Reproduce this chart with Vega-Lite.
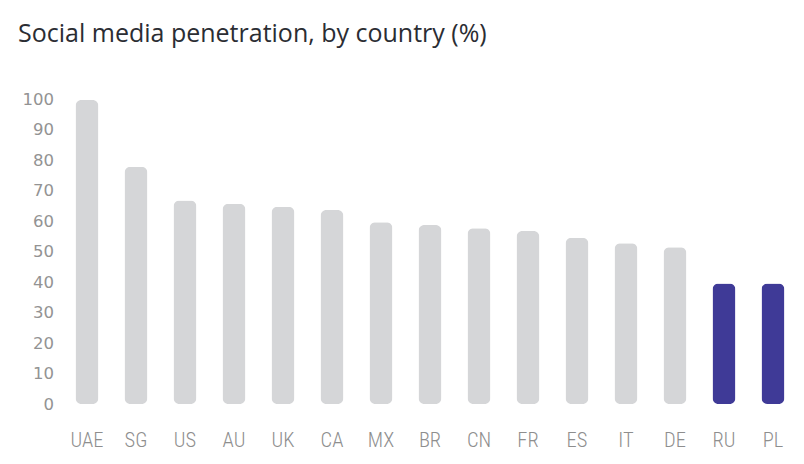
{
  "$schema": "https://vega.github.io/schema/vega-lite/v6.json",
  "autosize": {"type": "none"},
  "width": 735,
  "height": 304.5,
  "padding": {"left": 62.5, "top": 99.5, "right": 6.5, "bottom": 60},
  "background": "white",
  "title": {
    "text": "Social media penetration, by country (%)",
    "anchor": "start",
    "frame": "group",
    "dx": -44.5,
    "offset": 45,
    "font": "Open Sans",
    "fontSize": 25,
    "fontWeight": "normal",
    "color": "#2b2d33"
  },
  "data": {
    "values": [
      {"country": "UAE", "value": 99.8, "highlight": "no"},
      {"country": "SG", "value": 77.9, "highlight": "no"},
      {"country": "US", "value": 66.8, "highlight": "no"},
      {"country": "AU", "value": 65.8, "highlight": "no"},
      {"country": "UK", "value": 64.8, "highlight": "no"},
      {"country": "CA", "value": 63.7, "highlight": "no"},
      {"country": "MX", "value": 59.7, "highlight": "no"},
      {"country": "BR", "value": 58.8, "highlight": "no"},
      {"country": "CN", "value": 57.7, "highlight": "no"},
      {"country": "FR", "value": 56.8, "highlight": "no"},
      {"country": "ES", "value": 54.6, "highlight": "no"},
      {"country": "IT", "value": 52.8, "highlight": "no"},
      {"country": "DE", "value": 51.5, "highlight": "no"},
      {"country": "RU", "value": 39.6, "highlight": "yes"},
      {"country": "PL", "value": 39.6, "highlight": "yes"}
    ]
  },
  "mark": {"type": "bar", "cornerRadius": 6, "size": 23},
  "encoding": {
    "x": {
      "field": "country",
      "type": "nominal",
      "sort": null,
      "scale": {"paddingInner": 0, "paddingOuter": 0},
      "axis": {
        "title": null,
        "labelAngle": 0,
        "ticks": false,
        "domain": false,
        "labelPadding": 26,
        "labelFont": "'Roboto Condensed', 'DejaVu Sans Condensed', 'Liberation Sans Narrow', Roboto",
        "labelFontSize": 20.5,
        "labelFontWeight": 300,
        "labelColor": "#8e8e8e"
      }
    },
    "y": {
      "field": "value",
      "type": "quantitative",
      "scale": {"domain": [0, 100], "nice": false},
      "axis": {
        "title": null,
        "values": [0, 10, 20, 30, 40, 50, 60, 70, 80, 90, 100],
        "ticks": false,
        "domain": false,
        "grid": false,
        "labelPadding": 9,
        "labelFont": "DejaVu Sans",
        "labelFontSize": 16.5,
        "labelColor": "#939393"
      }
    },
    "color": {
      "field": "highlight",
      "type": "nominal",
      "scale": {"domain": ["no", "yes"], "range": ["#d5d6d8", "#3f3a97"]},
      "legend": null
    }
  },
  "config": {"view": {"stroke": null}}
}
